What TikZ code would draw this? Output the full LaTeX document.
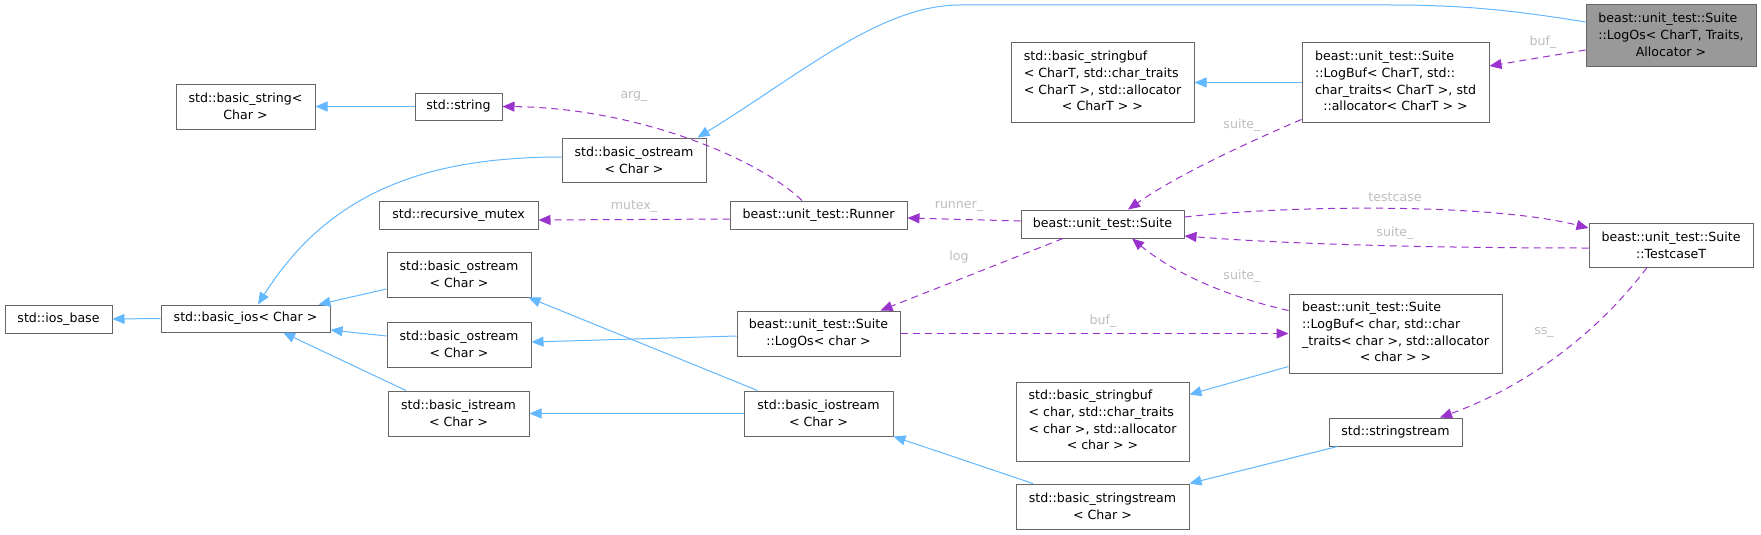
\documentclass[tikz,border=0pt]{standalone}
\usepackage{fontspec}
\setmainfont{DejaVu Sans}
\usetikzlibrary{arrows.meta}
\definecolor{eblue}{HTML}{63B8FF}
\definecolor{epurple}{HTML}{9A32CD}
\definecolor{nborder}{HTML}{666666}
\definecolor{nfill}{HTML}{999999}
\definecolor{lgray}{HTML}{BEBEBE}
\begin{document}
\begin{tikzpicture}[x=1pt,y=-1pt,
  every node/.style={font=\fontsize{12.6}{16.7}\selectfont},
  box/.style={draw=nborder, line width=1pt, fill=white, inner sep=0pt, align=center},
  mainbox/.style={box, fill=nfill},
  inh/.style={draw=eblue, line width=1pt, -{Triangle[length=12pt,width=10pt,fill=eblue]}},
  use/.style={draw=epurple, line width=1pt, dash pattern=on 7pt off 5pt, -{Triangle[length=12pt,width=10pt,fill=epurple]}},
  lbl/.style={text=lgray, inner sep=0pt}
]
\useasboundingbox (0,0) rectangle (1761,535);
\fill[white] (0,0) rectangle (1761,535);

% nodes
\node[box, minimum width=107pt, minimum height=28pt] (iosbase) at (58.5,319) {std::ios\_base};
\node[box, minimum width=169pt, minimum height=27pt] (basicios) at (245.5,318.5) {std::basic\_ios< Char >};
\node[box, minimum width=139pt, minimum height=45pt] (bstring) at (245.5,106.5) {std::basic\_string<\\Char >};
\node[box, minimum width=87pt, minimum height=27pt] (string) at (458.5,106.5) {std::string};
\node[box, minimum width=144pt, minimum height=44pt] (ostreamA) at (634,160) {std::basic\_ostream\\< Char >};
\node[box, minimum width=159pt, minimum height=28pt] (recmutex) at (458.5,215) {std::recursive\_mutex};
\node[box, minimum width=144pt, minimum height=45pt] (ostreamB) at (459,274.5) {std::basic\_ostream\\< Char >};
\node[box, minimum width=144pt, minimum height=45pt] (ostreamC) at (459,344.5) {std::basic\_ostream\\< Char >};
\node[box, minimum width=141pt, minimum height=45pt] (istream) at (458.5,413.5) {std::basic\_istream\\< Char >};
\node[box, minimum width=177pt, minimum height=28pt] (runner) at (818.5,215) {beast::unit\_test::Runner};
\node[box, minimum width=163pt, minimum height=45pt] (logosC) at (818.5,333.5) {beast::unit\_test::Suite\\::LogOs< char >};
\node[box, minimum width=149pt, minimum height=45pt] (iostream) at (818.5,413.5) {std::basic\_iostream\\< Char >};
\node[box, minimum width=183pt, minimum height=79pt] (stringbufT) at (1102.5,82.5) {\begin{tabular}{@{}l@{}}std::basic\_stringbuf\\< CharT, std::char\_traits\\< CharT >, std::allocator\\\multicolumn{1}{@{}c@{}}{< CharT > >}\end{tabular}};
\node[box, minimum width=163pt, minimum height=28pt] (suite) at (1102.5,224) {beast::unit\_test::Suite};
\node[box, minimum width=173pt, minimum height=79pt] (stringbufC) at (1102.5,421.5) {\begin{tabular}{@{}l@{}}std::basic\_stringbuf\\< char, std::char\_traits\\< char >, std::allocator\\\multicolumn{1}{@{}c@{}}{< char > >}\end{tabular}};
\node[box, minimum width=173pt, minimum height=45pt] (sstreamB) at (1102.5,506.5) {std::basic\_stringstream\\< Char >};
\node[box, minimum width=187pt, minimum height=79pt] (logbufT) at (1395.5,82.5) {\begin{tabular}{@{}l@{}}beast::unit\_test::Suite\\::LogBuf< CharT, std::\\char\_traits< CharT >, std\\\multicolumn{1}{@{}c@{}}{::allocator< CharT > >}\end{tabular}};
\node[box, minimum width=213pt, minimum height=79pt] (logbufC) at (1395.5,333.5) {\begin{tabular}{@{}l@{}}beast::unit\_test::Suite\\::LogBuf< char, std::char\\\_traits< char >, std::allocator\\\multicolumn{1}{@{}c@{}}{< char > >}\end{tabular}};
\node[box, minimum width=133pt, minimum height=28pt] (sstream) at (1395.5,432) {std::stringstream};
\node[mainbox, minimum width=170pt, minimum height=62pt] (logosT) at (1671,36) {\begin{tabular}{@{}l@{}}beast::unit\_test::Suite\\::LogOs< CharT, Traits,\\\multicolumn{1}{@{}c@{}}{Allocator >}\end{tabular}};
\node[box, minimum width=164pt, minimum height=44pt] (testcase) at (1671,245) {beast::unit\_test::Suite\\::TestcaseT};

% inheritance edges (blue)
\draw[inh] (string.west) -- (bstring.east);
\draw[inh] ([yshift=14pt]logosT.west) .. controls (1500,8) and (1450,5) .. (1390,5) -- (960,5) .. controls (880,5) and (800,75) .. ([xshift=-9pt]ostreamA.north east);
\draw[inh] ([yshift=3pt]ostreamA.west) .. controls (430,157) and (330,190) .. ([xshift=12.5pt]basicios.north);
\draw[inh] (basicios.west) -- (iosbase.east);
\draw[inh] ([yshift=-14.5pt]ostreamB.west) -- ([xshift=-12pt]basicios.north east);
\draw[inh] ([yshift=8.5pt]ostreamC.west) -- ([yshift=-11.5pt]basicios.east);
\draw[inh] ([xshift=-52.5pt]istream.north) -- ([xshift=37.5pt]basicios.south);
\draw[inh] ([xshift=14pt]iostream.north west) -- ([xshift=-3pt]ostreamB.south east);
\draw[inh] (iostream.west) -- (istream.east);
\draw[inh] ([yshift=-2.5pt]logosC.west) -- ([yshift=2.5pt]ostreamC.east);
\draw[inh] (logbufT.west) -- (stringbufT.east);
\draw[inh] ([yshift=7pt]logbufC.south west) -- ([yshift=-13pt]stringbufC.north east);
\draw[inh] ([xshift=9pt]sstream.south west) -- (sstreamB.north east);
\draw[inh] ([xshift=-69.5pt]sstreamB.north) -- (iostream.south east);

% usage edges (purple, dashed)
\draw[use] ([xshift=-16.5pt]runner.north) .. controls (760,160) and (640,108) .. (string.east);
\draw[use] ([yshift=-4pt]runner.west) -- ([yshift=-5pt]recmutex.east);
\draw[use] ([yshift=3pt]suite.west) -- ([yshift=-3pt]runner.east);
\draw[use] ([yshift=3pt]logbufT.south west) .. controls (1230,150) and (1170,180) .. ([xshift=25.5pt]suite.north);
\draw[use] ([yshift=-14pt]logosT.west) -- ([yshift=16.5pt]logbufT.east);
\draw[use] ([yshift=7pt]suite.east) .. controls (1290,205) and (1490,203) .. ([yshift=17pt]testcase.west);
\draw[use] ([yshift=-3pt]testcase.west) .. controls (1450,248) and (1300,245) .. ([yshift=-12pt]suite.east);
\draw[use] ([xshift=-39.5pt]suite.south) -- ([xshift=-20pt]logosC.north east);
\draw[use] ([yshift=-17pt]logbufC.north west) .. controls (1220,295) and (1170,270) .. ([xshift=29.5pt]suite.south);
\draw[use] (logosC.east) -- (logbufC.west);
\draw[use] ([xshift=-24pt]testcase.south) .. controls (1600,330) and (1530,385) .. ([xshift=44.5pt]sstream.north);

% edge labels
\node[lbl] (l-arg) at (634,96) {arg\_};
\node[lbl] (l-mutex) at (634,207) {mutex\_};
\node[lbl] (l-runner) at (959,206) {runner\_};
\node[lbl] (l-suite1) at (1242,125) {suite\_};
\node[lbl] (l-buf1) at (1543,42) {buf\_};
\node[lbl] (l-testcase) at (1395,197) {testcase};
\node[lbl] (l-suite2) at (1395,233) {suite\_};
\node[lbl] (l-log) at (959,257) {log};
\node[lbl] (l-suite3) at (1242,276) {suite\_};
\node[lbl] (l-buf2) at (1103,321) {buf\_};
\node[lbl] (l-ss) at (1544,332) {ss\_};
\end{tikzpicture}
\end{document}
